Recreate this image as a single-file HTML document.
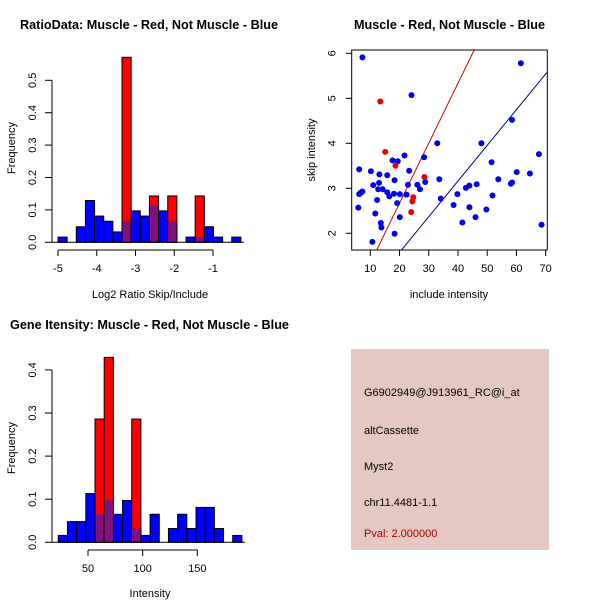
<!DOCTYPE html>
<html><head><meta charset="utf-8"><style>
html,body{margin:0;padding:0;background:#fff;}
svg{display:block;font-family:"Liberation Sans",sans-serif;}
</style></head><body>
<svg id="c" width="600" height="600" viewBox="0 0 600 600" xmlns="http://www.w3.org/2000/svg"></svg>
<script>
// ---- Plot 1 data (ratio histogram) ----
const ratioBinStart = -5;
const ratioBinWidth = 0.236;
const ratioBlue = [0.016,0,0.048,0.129,0.081,0.065,0.032,0.065,0.097,0.081,0.113,0.097,0.065,0,0.016,0.016,0.048,0.016,0,0.016];
const ratioRed  = [0,0,0,0,0,0,0,0.571,0,0,0.143,0,0.143,0,0,0.143,0,0,0,0];
const ratioXTicks = [-5,-4,-3,-2,-1];
const ratioYTicks = [0,0.1,0.2,0.3,0.4,0.5];
// ---- Plot 2 data (scatter) ----
const blueX = [7.3,24.1,61.5,32.9,48.0,58.5,67.7,6.2,10.2,13.1,17.6,19.4,21.7,28.4,23.3,15.8,13.0,14.2,11.0,12.7,18.3,22.9,26.1,28.8,33.6,27.0,51.5,60.1,64.6,53.8,58.1,58.5,46.4,43.9,42.7,15.8,16.5,18.1,19.2,20.1,6.2,6.7,7.3,5.9,12.3,11.7,13.6,13.8,10.7,18.3,20.1,22.4,34.1,39.8,38.5,41.5,43.9,46.0,49.7,51.8,68.6];
const blueY = [5.91,5.07,5.78,4.0,4.0,4.52,3.76,3.42,3.38,3.31,3.62,3.6,3.73,3.69,3.39,3.29,3.12,2.98,3.07,2.98,3.18,3.08,3.08,3.14,3.2,2.98,3.58,3.36,3.33,3.2,3.1,3.13,3.09,3.06,3.01,2.91,2.82,2.88,2.67,2.87,2.87,2.9,2.93,2.57,2.74,2.44,2.23,2.13,1.81,1.99,2.36,2.86,2.77,2.87,2.63,2.24,2.58,2.36,2.53,2.84,2.19];
const redX = [13.4,15.1,18.6,28.5,24.7,24.4,24.0];
const redY = [4.93,3.81,3.5,3.25,2.8,2.71,2.47];
const redFit = [0.003,0.1333];   // intercept, slope
const blueFit = [-0.01,0.0793];
const scatXTicks = [10,20,30,40,50,60,70];
const scatYTicks = [2,3,4,5,6];
// ---- Plot 3 data (intensity histogram) ----
const intBinStart = 22.8;
const intBinWidth = 8.4;
const intBlue = [0.016,0.048,0.048,0.113,0.065,0.097,0.065,0.097,0.032,0.016,0.065,0,0.032,0.065,0.032,0.081,0.081,0.032,0,0.016];
const intRed  = [0,0,0,0,0.286,0.429,0,0,0.286,0,0,0,0,0,0,0,0,0,0,0];
const intXTicks = [50,100,150];
const intYTicks = [0,0.1,0.2,0.3,0.4];
// ---- Info panel ----
const infoLines = ["G6902949@J913961_RC@i_at","altCassette","Myst2","chr11.4481-1.1"];
const infoPval = "Pval: 2.000000";

const NS="http://www.w3.org/2000/svg";
const svg=document.getElementById('c');
function mk(tag,attrs,parent){const e=document.createElementNS(NS,tag);for(const k in attrs)e.setAttribute(k,attrs[k]);(parent||svg).appendChild(e);return e;}
function txt(s,attrs,parent){const e=mk('text',attrs,parent);e.textContent=s;return e;}

let t;
t=txt("RatioData: Muscle - Red, Not Muscle - Blue",{x:20,y:29,'font-size':13,'font-weight':'bold',textLength:258,lengthAdjust:'spacingAndGlyphs'});


t=txt("Muscle - Red, Not Muscle - Blue",{x:354,y:29,'font-size':13,'font-weight':'bold',textLength:191,lengthAdjust:'spacingAndGlyphs'});


t=txt("Gene Itensity: Muscle - Red, Not Muscle - Blue",{x:10,y:329,'font-size':13,'font-weight':'bold',textLength:279,lengthAdjust:'spacingAndGlyphs'});



function hist(name,binStart,binW,blue,red,xs,ys,xTicks,yTicks,xLabel,yTitleY,xLabelY,axisY){
  const g=mk('g',{});
  
  
  const y0=ys(0);
  for(let i=0;i<blue.length;i++){
    const a=xs(binStart+i*binW), b=xs(binStart+(i+1)*binW);
    const bv=blue[i], rv=red[i];
    if(bv>0){const r=mk('rect',{x:a,y:ys(bv),width:b-a,height:y0-ys(bv),fill:'#0000ff',stroke:'#000','stroke-width':1},g);
      
      }
    if(rv>0){const r=mk('rect',{x:a,y:ys(rv),width:b-a,height:y0-ys(rv),fill:'#ff0000',stroke:'#000','stroke-width':1},g);
      
      
      const m=Math.min(bv,rv);
      if(m>0){const p=mk('rect',{x:a+0.5,y:ys(m),width:b-a-1,height:y0-ys(m),fill:'#80107f'},g);
        
        }
    }
  }
  const bx1=xs(binStart+blue.length*binW);
  mk('line',{x1:52,x2:bx1+3,y1:y0,y2:y0,stroke:'#000'},g);
  const ya=mk('g',{},g);
  
  
  mk('line',{x1:52,x2:52,y1:ys(yTicks[0]),y2:ys(yTicks[yTicks.length-1]),stroke:'#000'},ya);
  yTicks.forEach(v=>{const y=ys(v);mk('line',{x1:45,x2:52,y1:y,y2:y,stroke:'#000'},ya);
    txt(v.toFixed(1),{x:0,y:0,'font-size':11,'text-anchor':'middle',transform:`translate(36,${y}) rotate(-90)`},ya);});
  const xa=mk('g',{},g);
  
  
  mk('line',{x1:xs(xTicks[0]),x2:xs(xTicks[xTicks.length-1]),y1:axisY,y2:axisY,stroke:'#000'},xa);
  xTicks.forEach(v=>{const x=xs(v);mk('line',{x1:x,x2:x,y1:axisY,y2:axisY+6,stroke:'#000'},xa);
    txt(String(v),{x:x,y:axisY+22,'font-size':11,'text-anchor':'middle'},xa);});
  const xl=txt(xLabel,{x:150,y:xLabelY,'font-size':11,'text-anchor':'middle'},g);
  
  
  const yl=txt("Frequency",{x:0,y:0,'font-size':11,'text-anchor':'middle',transform:`translate(15,${yTitleY}) rotate(-90)`},g);
  
  
}
hist('ratio-histogram',ratioBinStart,ratioBinWidth,ratioBlue,ratioRed,
  v=>58+(v+5)*38.75, v=>242.3-v*324,
  ratioXTicks,ratioYTicks,"Log2 Ratio Skip/Include",148,298,250);
hist('intensity-histogram',intBinStart,intBinWidth,intBlue,intRed,
  v=>88+(v-50)*1.093, v=>542.3-v*431,
  intXTicks,intYTicks,"Intensity",448,597,550);

(function(){
  const g=mk('g',{});
  
  
  const L=351.7,R=547.3,T=50,B=250;
  const xs=v=>370.3+(v-10)*2.923, ys=v=>233.3-(v-2)*45;
  const cp=mk('clipPath',{id:'sc'},g);
  mk('rect',{x:L,y:T,width:R-L,height:B-T},cp);
  const fitLine=(f,col,nm)=>{const x0=0,x1=80;const l=mk('line',{x1:xs(x0),y1:ys(f[0]+f[1]*x0),x2:xs(x1),y2:ys(f[0]+f[1]*x1),stroke:col,'stroke-width':1,'clip-path':'url(#sc)'},g);
    
    };
  fitLine(redFit,'#cc0000','red-fit-line');
  fitLine(blueFit,'#000099','blue-fit-line');
  for(let i=0;i<blueX.length;i++){const c=mk('circle',{cx:xs(blueX[i]),cy:ys(blueY[i]),r:3,fill:'#0000ee'},g);
    
    }
  for(let i=0;i<redX.length;i++){const c=mk('circle',{cx:xs(redX[i]),cy:ys(redY[i]),r:3,fill:'#ee0000'},g);
    
    }
  mk('rect',{x:L,y:T,width:R-L,height:B-T,fill:'none',stroke:'#000'},g);
  const xa=mk('g',{},g);
  
  
  scatXTicks.forEach(v=>{const x=xs(v);mk('line',{x1:x,x2:x,y1:B,y2:B+6,stroke:'#000'},xa);
    txt(String(v),{x:x,y:B+22,'font-size':11,'text-anchor':'middle'},xa);});
  const ya=mk('g',{},g);
  
  
  scatYTicks.forEach(v=>{const y=ys(v);mk('line',{x1:L-6,x2:L,y1:y,y2:y,stroke:'#000'},ya);
    txt(String(v),{x:0,y:0,'font-size':11,'text-anchor':'middle',transform:`translate(${L-16},${y}) rotate(-90)`},ya);});
  const xl=txt("include intensity",{x:449,y:298,'font-size':11,'text-anchor':'middle'},g);
  
  
  const yl=txt("skip intensity",{x:0,y:0,'font-size':11,'text-anchor':'middle',transform:'translate(315,150) rotate(-90)'},g);
  
  
})();

(function(){
  const g=mk('g',{});
  
  
  mk('rect',{x:351,y:349,width:198,height:201,fill:'#e5c8c2'},g);
  const ysArr=[396,434,470,506];
  infoLines.forEach((s,i)=>{const e=txt(s,{x:364,y:ysArr[i],'font-size':11,fill:'#000'},g);
    
    });
  const p=txt(infoPval,{x:364,y:537,'font-size':11,fill:'#a00000'},g);
  
  
})();
</script>
</body></html>
